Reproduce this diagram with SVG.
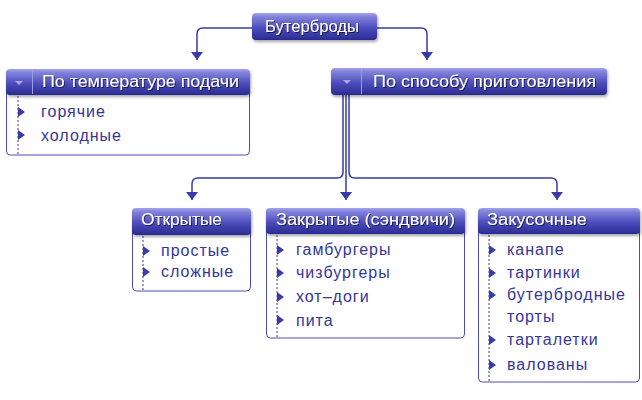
<svg xmlns="http://www.w3.org/2000/svg" width="642" height="400" viewBox="0 0 642 400">
<defs>
<linearGradient id="hg" x1="0" y1="0" x2="0" y2="1">
<stop offset="0" stop-color="#a4a4ee"/>
<stop offset="0.12" stop-color="#8585dc"/>
<stop offset="0.55" stop-color="#4d4dbd"/>
<stop offset="1" stop-color="#2a2a92"/>
</linearGradient>
<filter id="sh" x="-10%" y="-20%" width="120%" height="160%">
<feGaussianBlur in="SourceAlpha" stdDeviation="1.5"/>
<feOffset dx="1" dy="2" result="b"/>
<feComponentTransfer><feFuncA type="linear" slope="0.35"/></feComponentTransfer>
<feMerge><feMergeNode/><feMergeNode in="SourceGraphic"/></feMerge>
</filter>
<filter id="ts" x="-5%" y="-20%" width="110%" height="150%">
<feGaussianBlur in="SourceAlpha" stdDeviation="0.6"/>
<feOffset dx="0.5" dy="1"/>
<feComponentTransfer><feFuncA type="linear" slope="0.6"/></feComponentTransfer>
<feMerge><feMergeNode/><feMergeNode in="SourceGraphic"/></feMerge>
</filter>
<marker id="ar" markerWidth="12" markerHeight="8" refX="6" refY="8" markerUnits="userSpaceOnUse" orient="0">
<path d="M0,0 H12 L6,8 Z" fill="#3a3aa8"/>
</marker>
<path id="tri" d="M0,-5 L7,0 L0,5 Z"/>
</defs>
<style>
.hdr{fill:url(#hg);filter:url(#sh)}
.ht{font-family:"Liberation Sans",Arial,sans-serif;font-size:16px;fill:#ffffff;filter:url(#ts)}
.body{fill:#ffffff;stroke:#4d4db0;stroke-width:1}
.dot{stroke:#3a3aa8;stroke-width:1;stroke-dasharray:2,2}
.it{font-family:"Liberation Sans",Arial,sans-serif;font-size:16px;fill:#35359a;letter-spacing:1px}
.tr{fill:#3a3aa8}
.dv{stroke:#9c9ce4;stroke-width:1}
.dd{fill:#a8a8e8}
.con{fill:none;stroke:#3a3aa8;stroke-width:1.5}
</style>

<g id="connectors">
<path class="con" d="M252,28 H203 Q197,28 197,34 V60" marker-end="url(#ar)"/>
<path class="con" d="M377,28 H421 Q427,28 427,34 V60" marker-end="url(#ar)"/>
<path class="con" d="M343,95 V172 Q343,178 337,178 H198 Q192,178 192,184 V200" marker-end="url(#ar)"/>
<path class="con" d="M346,95 V200" marker-end="url(#ar)"/>
<path class="con" d="M349,95 V172 Q349,178 355,178 H551 Q557,178 557,184 V200" marker-end="url(#ar)"/>
</g>

<g id="root">
<rect class="hdr" x="252" y="13" width="125" height="27" rx="4"/>
<text class="ht" x="265" y="32" textLength="94" lengthAdjust="spacingAndGlyphs">Бутерброды</text>
</g>

<g id="temp">
<path class="body" d="M6.5,90 H249.5 V151 Q249.5,155 245.5,155 H10.5 Q6.5,155 6.5,151 Z"/>
<line class="dot" x1="18" y1="96" x2="18" y2="155"/>
<use href="#tri" class="tr" x="18" y="112"/>
<use href="#tri" class="tr" x="18" y="135"/>
<rect class="hdr" x="6" y="69" width="244" height="26" rx="4"/>
<line class="dv" x1="32.5" y1="70" x2="32.5" y2="94"/>
<path class="dd" d="M15,81 H23 L19,85 Z"/>
<text class="ht" x="42" y="87" textLength="197" lengthAdjust="spacingAndGlyphs">По температуре подачи</text>
<text class="it" x="41" y="117">горячие</text>
<text class="it" x="41" y="141">холодные</text>
</g>

<g id="method">
<rect class="hdr" x="331" y="68" width="276" height="27" rx="4"/>
<line class="dv" x1="361.5" y1="69" x2="361.5" y2="94"/>
<path class="dd" d="M343,80 H351 L347,84 Z"/>
<text class="ht" x="373" y="87" textLength="223" lengthAdjust="spacingAndGlyphs">По способу приготовления</text>
</g>

<g id="open">
<path class="body" d="M132.5,230 H250.5 V287 Q250.5,291 246.5,291 H136.5 Q132.5,291 132.5,287 Z"/>
<line class="dot" x1="143" y1="236" x2="143" y2="291"/>
<use href="#tri" class="tr" x="143" y="251"/>
<use href="#tri" class="tr" x="143" y="272"/>
<rect class="hdr" x="132" y="208" width="119" height="27" rx="4"/>
<text class="ht" x="141" y="225" textLength="81" lengthAdjust="spacingAndGlyphs">Открытые</text>
<text class="it" x="161" y="256">простые</text>
<text class="it" x="161" y="277">сложные</text>
</g>

<g id="closed">
<path class="body" d="M266.5,230 H464.5 V334 Q464.5,338 460.5,338 H270.5 Q266.5,338 266.5,334 Z"/>
<line class="dot" x1="277" y1="235" x2="277" y2="338"/>
<use href="#tri" class="tr" x="277" y="250"/>
<use href="#tri" class="tr" x="277" y="273"/>
<use href="#tri" class="tr" x="277" y="297"/>
<use href="#tri" class="tr" x="277" y="320"/>
<rect class="hdr" x="266" y="208" width="199" height="26" rx="4"/>
<text class="ht" x="276" y="225" textLength="179" lengthAdjust="spacingAndGlyphs">Закрытые (сэндвичи)</text>
<text class="it" x="296" y="255">гамбургеры</text>
<text class="it" x="296" y="278">чизбургеры</text>
<text class="it" x="296" y="302">хот–доги</text>
<text class="it" x="296" y="326">пита</text>
</g>

<g id="snack">
<path class="body" d="M478.5,230 H639.5 V378 Q639.5,382 635.5,382 H482.5 Q478.5,382 478.5,378 Z"/>
<line class="dot" x1="489" y1="235" x2="489" y2="382"/>
<use href="#tri" class="tr" x="489" y="250"/>
<use href="#tri" class="tr" x="489" y="273"/>
<use href="#tri" class="tr" x="489" y="295"/>
<use href="#tri" class="tr" x="489" y="340"/>
<use href="#tri" class="tr" x="489" y="365"/>
<rect class="hdr" x="478" y="208" width="162" height="26" rx="4"/>
<text class="ht" x="487" y="225" textLength="100" lengthAdjust="spacingAndGlyphs">Закусочные</text>
<text class="it" x="507" y="255">канапе</text>
<text class="it" x="507" y="278">тартинки</text>
<text class="it" x="507" y="300">бутербродные</text>
<text class="it" x="507" y="322">торты</text>
<text class="it" x="507" y="345">тарталетки</text>
<text class="it" x="507" y="370">валованы</text>
</g>
</svg>
